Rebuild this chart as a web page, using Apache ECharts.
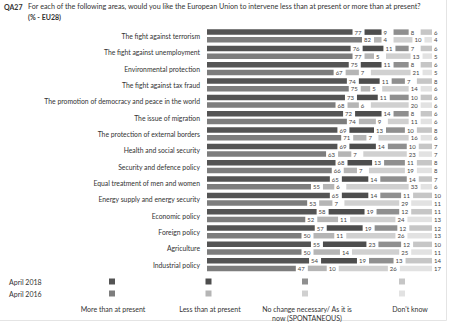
<!DOCTYPE html>
<html><head><meta charset="utf-8">
<script src="https://cdn.jsdelivr.net/npm/echarts@6/dist/echarts.min.js"></script>
<style>html,body{margin:0;padding:0;background:#fff}#c{width:449px;height:322px}</style>
</head><body><div id="c"></div>
<script>
// Areas for EU intervention (QA27, % - EU28)
const categories = [
  'The fight against terrorism', 'The fight against unemployment', 'Environmental protection',
  'The fight against tax fraud', 'The promotion of democracy and peace in the world',
  'The issue of migration', 'The protection of external borders', 'Health and social security',
  'Security and defence policy', 'Equal treatment of men and women',
  'Energy supply and energy security', 'Economic policy', 'Foreign policy', 'Agriculture',
  'Industrial policy'
];
const answers = ['More than at present', 'Less than at present',
  'No change necessary/ As it is\nnow (SPONTANEOUS)', "Don't know"];
const waves = ['April 2018', 'April 2016'];

const more2018 = [77, 76, 75, 74, 73, 72, 69, 69, 68, 65, 65, 58, 57, 55, 54];
const less2018 = [9, 11, 11, 11, 11, 14, 13, 14, 13, 14, 14, 19, 19, 23, 19];
const same2018 = [8, 7, 8, 7, 10, 8, 10, 10, 11, 14, 11, 12, 12, 12, 13];
const dk2018   = [6, 6, 6, 8, 6, 6, 8, 7, 8, 7, 10, 11, 12, 10, 14];

const more2016 = [82, 77, 67, 75, 68, 74, 71, 63, 66, 55, 53, 52, 50, 50, 47];
const less2016 = [4, 5, 7, 5, 6, 9, 7, 7, 7, 6, 7, 11, 11, 14, 10];
const same2016 = [10, 13, 21, 14, 20, 11, 16, 23, 19, 33, 29, 24, 26, 25, 26];
const dk2016   = [4, 5, 5, 6, 6, 6, 6, 7, 8, 6, 11, 13, 13, 11, 17];

// grey shades per wave: more / less / no change / don't know
const colors2018 = ['#545454', '#4d4d4d', '#8f8f8f', '#c6c6c6'];
const colors2016 = ['#7d7d7d', '#b5b5b5', '#d0d0d0', '#e2e2e2'];

// empty room (in % units) left after each segment for its value label
const GAP = 6.35;
const FONT = 'Lato, "Open Sans", sans-serif';

function buildStack(stack, values, colors) {
  const out = [];
  values.forEach((vals, i) => {
    out.push({
      type: 'bar', stack: stack, name: stack + '-' + i, data: vals,
      barWidth: 5.5, barGap: '40%',
      itemStyle: { color: colors[i] },
      label: { show: true, position: 'right', distance: 2, fontSize: 6,
        fontFamily: FONT, color: '#444' },
      silent: true
    });
    if (i < values.length - 1) {
      out.push({
        type: 'bar', stack: stack, name: stack + '-gap' + i,
        data: categories.map(() => GAP), barWidth: 5.5,
        itemStyle: { color: 'rgba(0,0,0,0)' }, label: { show: false }, silent: true
      });
    }
  });
  return out;
}

const series = [
  ...buildStack('wave-a-2018', [more2018, less2018, same2018, dk2018], colors2018),
  ...buildStack('wave-b-2016', [more2016, less2016, same2016, dk2016], colors2016)
];

// legend matrix at the bottom
const legendX = [112, 208.5, 305, 402];
const legendTextX = [113, 210, 307, 410];
const legendRowY = [281.5, 293.5];
const graphic = [
  { type: 'text', left: 4, top: 3, style: { text: 'QA27', font: 'bold 7px ' + FONT, fill: '#333' } },
  { type: 'text', left: 28, top: 3, style: {
    text: 'For each of the following areas, would you like the European Union to intervene less than at present or more than at present?',
    font: '7.2px ' + FONT, fill: '#333' } },
  { type: 'text', left: 28, top: 13, style: { text: '(% - EU28)', font: 'bold 7px ' + FONT, fill: '#333' } },
  { type: 'line', shape: { x1: 446.5, y1: 0, x2: 446.5, y2: 320.5 }, style: { stroke: '#e4e4e4', lineWidth: 1 } },
  { type: 'line', shape: { x1: 0, y1: 320.5, x2: 446.5, y2: 320.5 }, style: { stroke: '#e4e4e4', lineWidth: 1 } }
];
waves.forEach((w, r) => {
  graphic.push({ type: 'text', x: 9, y: legendRowY[r], style: { text: w, font: '7px ' + FONT,
    fill: '#333', verticalAlign: 'middle' } });
  const cols = r === 0 ? colors2018 : colors2016;
  legendX.forEach((x, i) => {
    graphic.push({ type: 'rect', shape: { x: x - 3, y: legendRowY[r] - 3, width: 6, height: 6 },
      style: { fill: cols[i] } });
  });
});
answers.forEach((a, i) => {
  graphic.push({ type: 'text', x: legendTextX[i], y: 304, style: { text: a, font: '7px ' + FONT,
    fill: '#333', align: 'center', lineHeight: 9 } });
});

const chart = echarts.init(document.getElementById('c'), null, { renderer: 'svg' });
chart.setOption({
  animation: false,
  grid: { left: 207, right: 17, top: 27.8, bottom: 49.3, containLabel: false },
  xAxis: { type: 'value', min: 0, max: 100 + 3 * GAP, show: false },
  yAxis: {
    type: 'category', data: categories, inverse: true,
    axisLine: { show: false }, axisTick: { show: false }, splitLine: { show: false },
    axisLabel: { fontSize: 6.8, fontFamily: FONT, color: '#333', margin: 7 }
  },
  series: series,
  graphic: graphic
});
</script>
</body></html>
